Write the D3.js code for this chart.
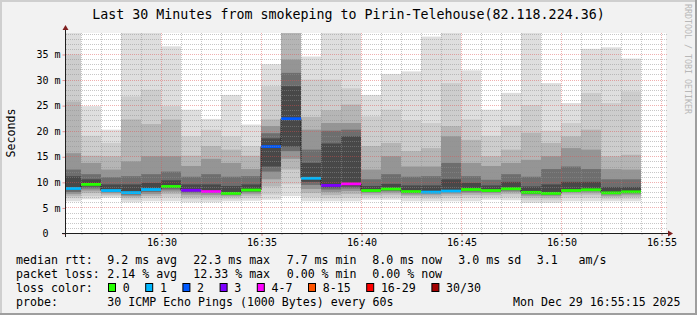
<!DOCTYPE html>
<html>
<head>
<meta charset="utf-8">
<script src="https://cdn.jsdelivr.net/npm/d3@7"></script>
<style>
  body { margin: 0; background: #f2f2f2; }
  svg { display: block; font-family: "DejaVu Sans Mono", monospace; }
  text { white-space: pre; }
</style>
</head>
<body>
<svg id="chart" width="697" height="315"></svg>
<script>
// median rtt per minute (ms)
const medians = [8.7, 9.5, 8.3, 7.9, 8.5, 9.1, 8.35, 8.1, 7.75, 8.4,
  16.9, 22.35, 10.7, 9.3, 9.6, 8.3, 8.6, 8.1, 8.0, 8.2,
  8.5, 8.3, 8.65, 7.95, 7.75, 8.3, 8.45, 7.85, 8.05]

// lost pings (of 30) per minute, from the median line colour
const losses = [1, 0, 1, 1, 1, 0, 3, 4, 0, 0,
  2, 2, 1, 3, 4, 0, 0, 0, 1, 1,
  0, 0, 0, 0, 0, 0, 0, 0, 0]

// smoke: upper ping values, outer band -> inner band (ms)
const smokeHi = [
  [39.1, 34.9, 25.7, 15.6, 12.4, 11.1],
  [24.8, 19.0, 15.1, 13.7, 11.5, 10.5],
  [20.2, 17.6, 15.0, 12.4, 10.9, 9.5],
  [39.1, 26.7, 22.2, 14.0, 11.1, 9.5],
  [39.1, 28.0, 21.3, 15.0, 11.5, 9.8],
  [36.5, 24.8, 22.2, 15.0, 12.0, 10.3],
  [24.1, 18.9, 15.1, 13.1, 11.0, 9.5],
  [22.3, 20.2, 17.0, 14.5, 11.5, 9.5],
  [27.0, 18.9, 16.3, 13.7, 11.0, 9.2],
  [21.2, 17.0, 15.1, 12.5, 11.1, 9.5],
  [33.0, 28.7, 22.2, 20.9, 19.5, 18.5],
  [39.1, 39.1, 39.1, 33.9, 31.3, 28.7],
  [34.5, 30.0, 22.7, 20.2, 16.3, 13.7],
  [39.1, 30.0, 24.0, 21.5, 20.0, 17.5],
  [39.1, 28.3, 25.1, 21.5, 20.2, 18.9],
  [27.0, 22.8, 17.0, 12.4, 10.5, 9.2],
  [31.1, 24.1, 17.6, 15.0, 11.5, 9.6],
  [31.6, 22.0, 16.0, 13.0, 11.0, 9.3],
  [38.4, 21.5, 16.6, 13.0, 11.1, 9.3],
  [39.1, 29.3, 20.9, 18.9, 13.7, 10.5],
  [31.8, 22.2, 18.2, 13.7, 11.1, 9.8],
  [24.1, 19.0, 15.0, 13.1, 10.4, 9.3],
  [27.4, 21.0, 16.3, 13.7, 11.5, 10.0],
  [39.1, 25.0, 19.6, 14.3, 11.0, 9.1],
  [29.3, 20.0, 17.6, 15.0, 12.5, 9.5],
  [25.4, 21.5, 18.9, 16.6, 13.0, 10.0],
  [36.0, 27.4, 20.2, 16.3, 12.5, 10.0],
  [36.3, 25.4, 15.0, 12.5, 10.5, 9.0],
  [34.1, 27.7, 15.3, 12.4, 10.5, 9.0]
]

// smoke: lower ping values, outer band -> inner band (ms)
const smokeLo = [
  [6.2, 6.8, 7.2, 7.6, 8.0, 8.4],
  [6.6, 7.2, 7.8, 8.3, 8.7, 9.1],
  [6.9, 7.2, 7.5, 7.8, 8.0, 8.15],
  [6.0, 6.5, 6.9, 7.2, 7.5, 7.7],
  [6.2, 6.8, 7.2, 7.6, 8.0, 8.3],
  [6.2, 7.0, 7.6, 8.1, 8.5, 8.8],
  [6.0, 6.6, 7.0, 7.5, 7.9, 8.2],
  [6.0, 6.5, 7.0, 7.4, 7.8, 8.0],
  [6.2, 6.6, 7.0, 7.3, 7.5, 7.65],
  [6.3, 6.8, 7.3, 7.7, 8.0, 8.2],
  [6.5, 7.5, 9.1, 10.5, 12.0, 13.0],
  [7.2, 9.5, 12.4, 14.5, 16.0, 16.9],
  [6.2, 7.0, 7.8, 8.6, 9.4, 10.0],
  [6.2, 6.8, 7.4, 8.0, 8.5, 8.9],
  [6.2, 6.9, 7.6, 8.2, 8.7, 9.1],
  [6.5, 7.0, 7.4, 7.8, 8.0, 8.15],
  [6.5, 7.0, 7.5, 7.9, 8.2, 8.45],
  [6.2, 6.8, 7.2, 7.5, 7.8, 7.95],
  [6.2, 6.7, 7.1, 7.5, 7.8, 7.95],
  [6.2, 6.8, 7.3, 7.7, 8.0, 8.1],
  [6.2, 6.9, 7.4, 7.8, 8.1, 8.35],
  [6.5, 7.0, 7.4, 7.8, 8.0, 8.15],
  [6.4, 7.0, 7.6, 8.0, 8.3, 8.5],
  [5.9, 6.4, 6.9, 7.3, 7.6, 7.8],
  [5.9, 6.4, 6.8, 7.2, 7.5, 7.6],
  [6.2, 6.9, 7.5, 7.9, 8.1, 8.2],
  [6.2, 6.9, 7.5, 7.9, 8.2, 8.35],
  [6.2, 6.6, 7.0, 7.3, 7.6, 7.7],
  [6.2, 6.7, 7.1, 7.5, 7.8, 7.9]
]

const yTicks = [0, 5, 10, 15, 20, 25, 30, 35]
const yMax = 39.1

const lossLabels = ["0", "1", "2", "3", "4-7", "8-15", "16-29", "30/30"]
const lossColors = ["#26ff00", "#00b8ff", "#0059ff", "#7e00ff", "#ff00ff", "#ff5500", "#ff0000", "#a10000"]
const lossMin = [0, 1, 2, 3, 4, 8, 16, 30]

const rttStats = ["9.2 ms avg", "22.3 ms max", "7.7 ms min", "8.0 ms now", "3.0 ms sd", "3.1   am/s"]
const lossStats = ["2.14 % avg", "12.33 % max", "0.00 % min", "0.00 % now"]
const statX = [107.3, 193.3, 286.7, 372.3, 458.3, 536.7]

const smokeGrey = ["#dedede", "#cdcdcd", "#b5b5b5", "#959595", "#6e6e6e", "#484848"]

const svg = d3.select("#chart")
const W = 697, H = 315
const pL = 66, pR = 666, pT = 33, pB = 233

const t0 = new Date(2025, 11, 29, 16, 25, 15)
const t1 = new Date(2025, 11, 29, 16, 55, 15)
const x = d3.scaleTime().domain([t0, t1]).range([pL, pR])
const y = d3.scaleLinear().domain([0, yMax]).range([pB, pT])

const barEnds = d3.timeMinute.range(new Date(2025, 11, 29, 16, 26), new Date(2025, 11, 29, 16, 55))
const bars = medians.map((m, i) => ({
  start: d3.timeMinute.offset(barEnds[i], -1),
  end: barEnds[i],
  median: m,
  loss: losses[i],
  hi: smokeHi[i],
  lo: smokeLo[i],
}))

function lossColor(n) {
  let k = 0
  lossMin.forEach((m, i) => { if (n >= m) k = i })
  return lossColors[k]
}

// background + frame
svg.append("rect").attr("width", W).attr("height", H).attr("fill", "#f2f2f2")
svg.append("rect").attr("x", 0).attr("y", 0).attr("width", W).attr("height", 2).attr("fill", "#cfcfcf")
svg.append("rect").attr("x", 0).attr("y", 0).attr("width", 2).attr("height", H).attr("fill", "#cfcfcf")
svg.append("rect").attr("x", W - 2).attr("y", 0).attr("width", 2).attr("height", H).attr("fill", "#9e9e9e")
svg.append("rect").attr("x", 0).attr("y", H - 2).attr("width", W).attr("height", 2).attr("fill", "#9e9e9e")

// canvas
svg.append("rect").attr("x", pL).attr("y", pT).attr("width", pR - pL).attr("height", pB - pT).attr("fill", "#fff")

svg.append("clipPath").attr("id", "plotclip")
  .append("rect").attr("x", pL).attr("y", pT).attr("width", pR - pL).attr("height", pB - pT)

const plot = svg.append("g").attr("clip-path", "url(#plotclip)")

// smoke bands, outer (light) first
const barG = plot.selectAll(".bar").data(bars).enter().append("g").attr("class", "bar")
barG.selectAll("rect")
  .data((d) => d.hi.map((h, k) => ({ start: d.start, end: d.end, hi: h, lo: d.lo[k], k: k })))
  .enter().append("rect")
  .attr("x", (d) => x(d.start))
  .attr("width", (d) => x(d.end) - x(d.start))
  .attr("y", (d) => y(d.hi))
  .attr("height", (d) => y(d.lo) - y(d.hi))
  .attr("fill", (d) => smokeGrey[d.k])

// median step line
const stepPts = bars.map((b) => [x(b.start), y(b.median)])
stepPts.push([x(bars[bars.length - 1].end), y(bars[bars.length - 1].median)])
plot.append("path")
  .attr("d", d3.line().curve(d3.curveStepAfter)(stepPts))
  .attr("fill", "none").attr("stroke", "#202020").attr("stroke-width", 1)

// median coloured by loss
plot.selectAll(".med").data(bars).enter().append("line")
  .attr("class", "med")
  .attr("x1", (d) => x(d.start)).attr("x2", (d) => x(d.end))
  .attr("y1", (d) => y(d.median)).attr("y2", (d) => y(d.median))
  .attr("stroke", (d) => lossColor(d.loss)).attr("stroke-width", 2.8)

// grid (dotted, drawn over the data like rrdtool)
const gridG = svg.append("g")
const minutes = d3.timeMinute.range(d3.timeMinute.ceil(t0), t1)
gridG.selectAll(".vg").data(minutes).enter().append("line")
  .attr("x1", (d) => Math.round(x(d)) + 0.5).attr("x2", (d) => Math.round(x(d)) + 0.5)
  .attr("y1", pT).attr("y2", pB)
  .attr("stroke", (d) => (d.getMinutes() % 5 === 0 ? "#de4f4f" : "#8f8f8f"))
  .attr("stroke-opacity", (d) => (d.getMinutes() % 5 === 0 ? 0.45 : 0.5))
  .attr("stroke-dasharray", "1,1")
const msLines = d3.range(1, Math.floor(yMax) + 1)
gridG.selectAll(".hg").data(msLines).enter().append("line")
  .attr("x1", pL).attr("x2", pR + 2)
  .attr("y1", (d) => Math.round(y(d)) + 0.5).attr("y2", (d) => Math.round(y(d)) + 0.5)
  .attr("stroke", (d) => (d % 5 === 0 ? "#de4f4f" : "#8f8f8f"))
  .attr("stroke-opacity", (d) => (d % 5 === 0 ? 0.45 : 0.5))
  .attr("stroke-dasharray", "1,1")

// axes (ticks and labels via d3 axes)
const xAxis = d3.axisBottom(x)
  .tickValues(minutes.filter((d) => d.getMinutes() % 5 === 0))
  .tickFormat(d3.timeFormat("%H:%M"))
  .tickSize(3).tickPadding(3)
const xg = svg.append("g").attr("transform", `translate(0.5,${pB})`).call(xAxis)
xg.select(".domain").remove()
xg.selectAll("line").attr("stroke", "#de4f4f").attr("stroke-opacity", 0.6)
xg.selectAll("text").attr("font-size", 10).attr("font-family", "DejaVu Sans Mono").attr("fill", "#000")

const xMinor = d3.axisBottom(x).tickValues(minutes).tickFormat("").tickSize(2)
const xmg = svg.append("g").attr("transform", `translate(0.5,${pB})`).call(xMinor)
xmg.select(".domain").remove()
xmg.selectAll("line").attr("stroke", "#8f8f8f").attr("stroke-opacity", 0.6)

const yAxis = d3.axisLeft(y)
  .tickValues(yTicks)
  .tickFormat((d) => (d === 0 ? "0  " : `${d} m`))
  .tickSize(3).tickPadding(2)
const yg = svg.append("g").attr("transform", `translate(${pL - 0.5},0.5)`).call(yAxis)
yg.select(".domain").remove()
yg.selectAll("line").attr("stroke", "#de4f4f").attr("stroke-opacity", 0.6)
yg.selectAll("text").attr("font-size", 10).attr("font-family", "DejaVu Sans Mono").attr("fill", "#000")
  .attr("xml:space", "preserve")

svg.append("line").attr("x1", pL - 4).attr("x2", pR + 2)
  .attr("y1", pB + 0.5).attr("y2", pB + 0.5).attr("stroke", "#1f1f1f")
svg.append("line").attr("x1", pL - 0.5).attr("x2", pL - 0.5)
  .attr("y1", pB + 4).attr("y2", pT - 3).attr("stroke", "#1f1f1f")
svg.append("path").attr("d", `M${pR + 2},${pB - 2.5}L${pR + 7},${pB + 0.5}L${pR + 2},${pB + 3.5}Z`)
  .attr("fill", "#7f1f1f")
svg.append("path").attr("d", `M${pL - 3.5},${pT - 3}L${pL - 0.5},${pT - 8}L${pL + 2.5},${pT - 3}Z`)
  .attr("fill", "#7f1f1f")

// title and side labels
svg.append("text").attr("x", W / 2).attr("y", 18.5).attr("text-anchor", "middle")
  .attr("font-size", 13.3).text("Last 30 Minutes from smokeping to Pirin-Telehouse(82.118.224.36)")
svg.append("text").attr("transform", "translate(15,133) rotate(-90)").attr("text-anchor", "middle")
  .attr("font-size", 11.6).text("Seconds")
svg.append("text").attr("transform", "translate(684.5,4) rotate(90)")
  .attr("font-size", 8.3).attr("fill", "#b8b8b8").text("RRDTOOL / TOBI OETIKER")

// legend
const legend = svg.append("g").attr("font-size", 11.6).attr("fill", "#000")
const rowY = [263.5, 277.5, 291.5, 305.5]
legend.append("text").attr("x", 16).attr("y", rowY[0]).text("median rtt:")
legend.selectAll(".rtt").data(rttStats).enter().append("text")
  .attr("x", (d, i) => statX[i]).attr("y", rowY[0]).attr("xml:space", "preserve").text((d) => d)
legend.append("text").attr("x", 16).attr("y", rowY[1]).text("packet loss:")
legend.selectAll(".pl").data(lossStats).enter().append("text")
  .attr("x", (d, i) => statX[i]).attr("y", rowY[1]).text((d) => d)
legend.append("text").attr("x", 16).attr("y", rowY[2]).text("loss color:")

let lx = 108
lossLabels.forEach((lab, i) => {
  legend.append("rect").attr("x", lx + 0.5).attr("y", 283.5).attr("width", 7).attr("height", 8)
    .attr("fill", lossColors[i]).attr("stroke", "#000").attr("stroke-width", 1)
  legend.append("text").attr("x", lx + 14.7).attr("y", rowY[2]).text(lab)
  lx += 14.7 + lab.length * 7 + 15.5
})

legend.append("text").attr("x", 16).attr("y", rowY[3]).text("probe:")
legend.append("text").attr("x", statX[0]).attr("y", rowY[3]).text("30 ICMP Echo Pings (1000 Bytes) every 60s")
legend.append("text").attr("x", 513).attr("y", rowY[3]).text("Mon Dec 29 16:55:15 2025")
</script>
</body>
</html>
